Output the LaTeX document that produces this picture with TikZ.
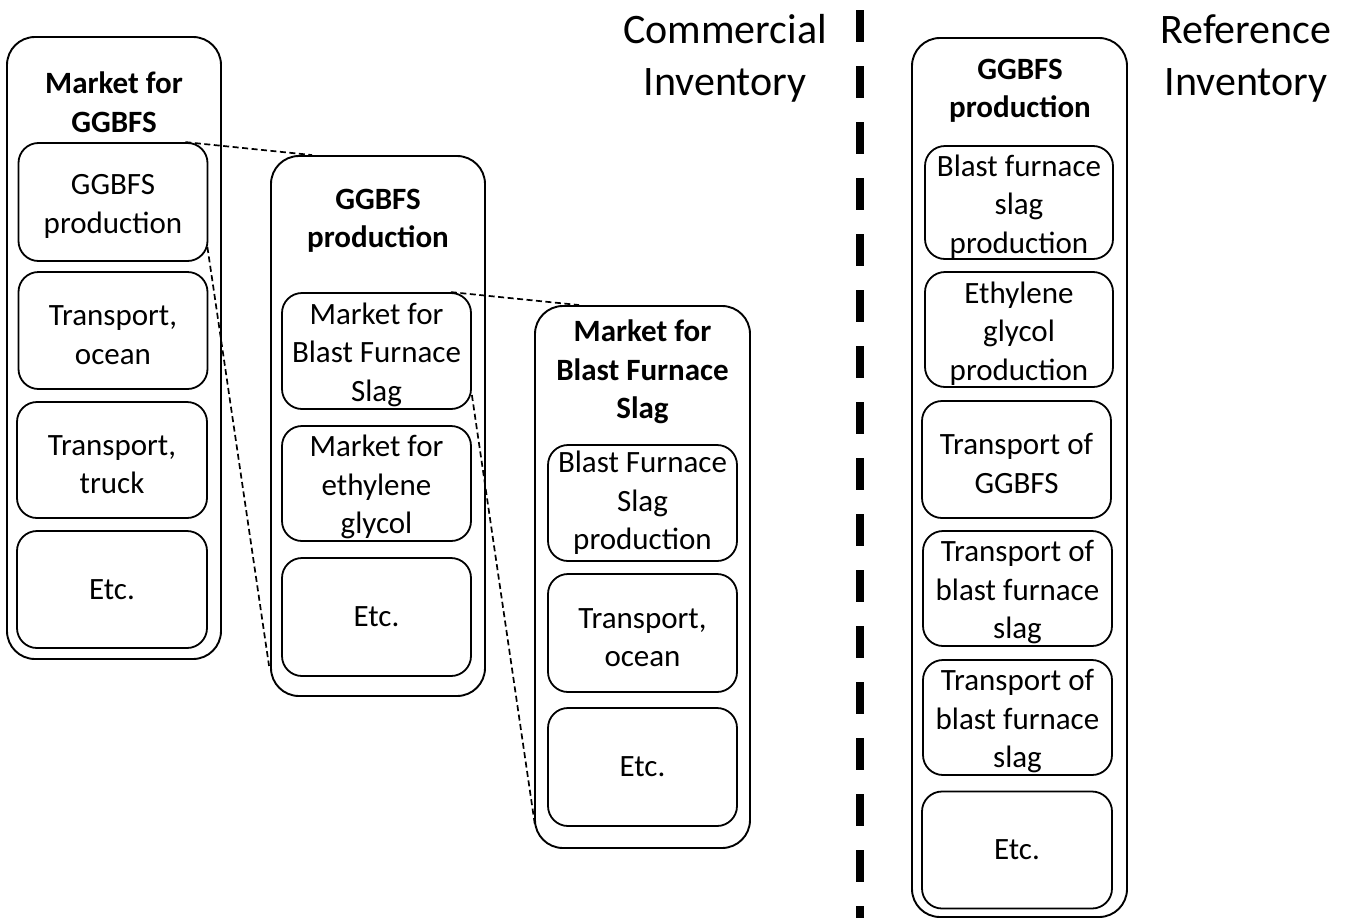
\documentclass[tikz,border=0pt]{standalone}
\usepackage{fontspec}
\setmainfont{Carlito}
\usetikzlibrary{calc}
% strut that evens out the height of the first line of a stacked label
\newcommand{\firststrut}{\rule{0pt}{29pt}}
\tikzset{
  outerbox/.style={draw, line width=1.9pt, rounded corners=28pt, inner sep=0pt},
  innerbox/.style={draw, line width=1.8pt, rounded corners=20pt, inner sep=0pt,
    align=center, font=\fontsize{31}{38.5}\selectfont},
  boxtitle/.style={align=center, inner sep=0pt, font=\fontsize{31}{38.5}\selectfont\bfseries},
  sidetitle/.style={align=center, inner sep=0pt, font=\fontsize{42}{52}\selectfont},
  callout/.style={line width=1.7pt, dash pattern=on 6pt off 3.5pt},
  divider/.style={line width=8pt, dash pattern=on 32pt off 24pt}
}
\begin{document}
\begin{tikzpicture}[x=1pt,y=-1pt]
\useasboundingbox (0,0) rectangle (1348,918);

% Market for GGBFS
\node[outerbox, minimum width=214pt, minimum height=622pt] (A) at (114,348) {};
\node[boxtitle] (At) at (114,102) {Market for\\GGBFS};
\node[innerbox, minimum width=189pt, minimum height=118pt] (A1) at (113,202) {\firststrut GGBFS\\production};
\node[innerbox, minimum width=189pt, minimum height=117pt] (A2) at (113,330.5) {\firststrut Transport,\\ocean};
\node[innerbox, minimum width=190pt, minimum height=116pt] (A3) at (112,460) {\firststrut Transport,\\truck};
\node[innerbox, minimum width=190pt, minimum height=117pt] (A4) at (112,589.5) {Etc.};

% GGBFS production
\node[outerbox, minimum width=214pt, minimum height=540pt] (B) at (378,426) {};
\node[boxtitle] (Bt) at (378,221) {GGBFS\\production};
\node[innerbox, minimum width=189pt, minimum height=116pt] (B1) at (376.5,351) {\firststrut Market for\\Blast Furnace\\Slag};
\node[innerbox, minimum width=189pt, minimum height=115pt] (B2) at (376.5,483.5) {\firststrut Market for\\ethylene\\glycol};
\node[innerbox, minimum width=189pt, minimum height=118pt] (B3) at (376.5,617) {Etc.};

% Market for Blast Furnace Slag
\node[outerbox, minimum width=215pt, minimum height=542pt] (C) at (642.5,577) {};
\node[boxtitle] (Ct) at (642.5,372) {Market for\\Blast Furnace\\Slag};
\node[innerbox, minimum width=189pt, minimum height=116pt] (C1) at (642.5,503) {Blast Furnace\\Slag\\production};
\node[innerbox, minimum width=189pt, minimum height=118pt] (C2) at (642.5,633) {\firststrut Transport,\\ocean};
\node[innerbox, minimum width=189pt, minimum height=118pt] (C3) at (642.5,767) {Etc.};

% Reference inventory
\node[outerbox, minimum width=215pt, minimum height=879pt] (D) at (1019.5,477.5) {};
\node[boxtitle] (Dt) at (1020,91) {GGBFS\\production};
\node[innerbox, minimum width=188pt, minimum height=113pt] (D1) at (1019,202.5) {\firststrut Blast furnace\\slag\\production};
\node[innerbox, minimum width=188pt, minimum height=115pt] (D2) at (1019,329.5) {\firststrut Ethylene\\glycol\\production};
\node[innerbox, minimum width=189pt, minimum height=117pt] (D3) at (1016.5,459.5) {\firststrut Transport of\\GGBFS};
\node[innerbox, minimum width=189pt, minimum height=115pt] (D4) at (1017.5,588.5) {\firststrut Transport of\\blast furnace\\slag};
\node[innerbox, minimum width=189pt, minimum height=115pt] (D5) at (1017.5,717.5) {\firststrut Transport of\\blast furnace\\slag};
\node[innerbox, minimum width=190pt, minimum height=117pt] (D6) at (1017,850) {Etc.};

% Column headings
\node[sidetitle] (com) at (725,58) {Commercial\\Inventory};
\node[sidetitle] (ref) at (1246,58) {Reference\\Inventory};

% Divider between the two inventories
\coordinate (divtop) at (860,10);
\coordinate (divbot) at (860,918);
\draw[divider] (divtop) -- (divbot);

% Zoom-in callouts
\draw[callout] ($(A1.north east)+(-23,0)$) -- ($(B.north west)+(42,0)$);
\draw[callout] ($(A1.east)+(-1,45)$) -- ($(B.south west)+(-1,-31)$);
\draw[callout] ($(B1.north east)+(-21,0)$) -- ($(C.north west)+(45,0)$);
\draw[callout] ($(B1.east)+(0,44)$) -- ($(C.south west)+(1,-23)$);
\end{tikzpicture}
\end{document}
